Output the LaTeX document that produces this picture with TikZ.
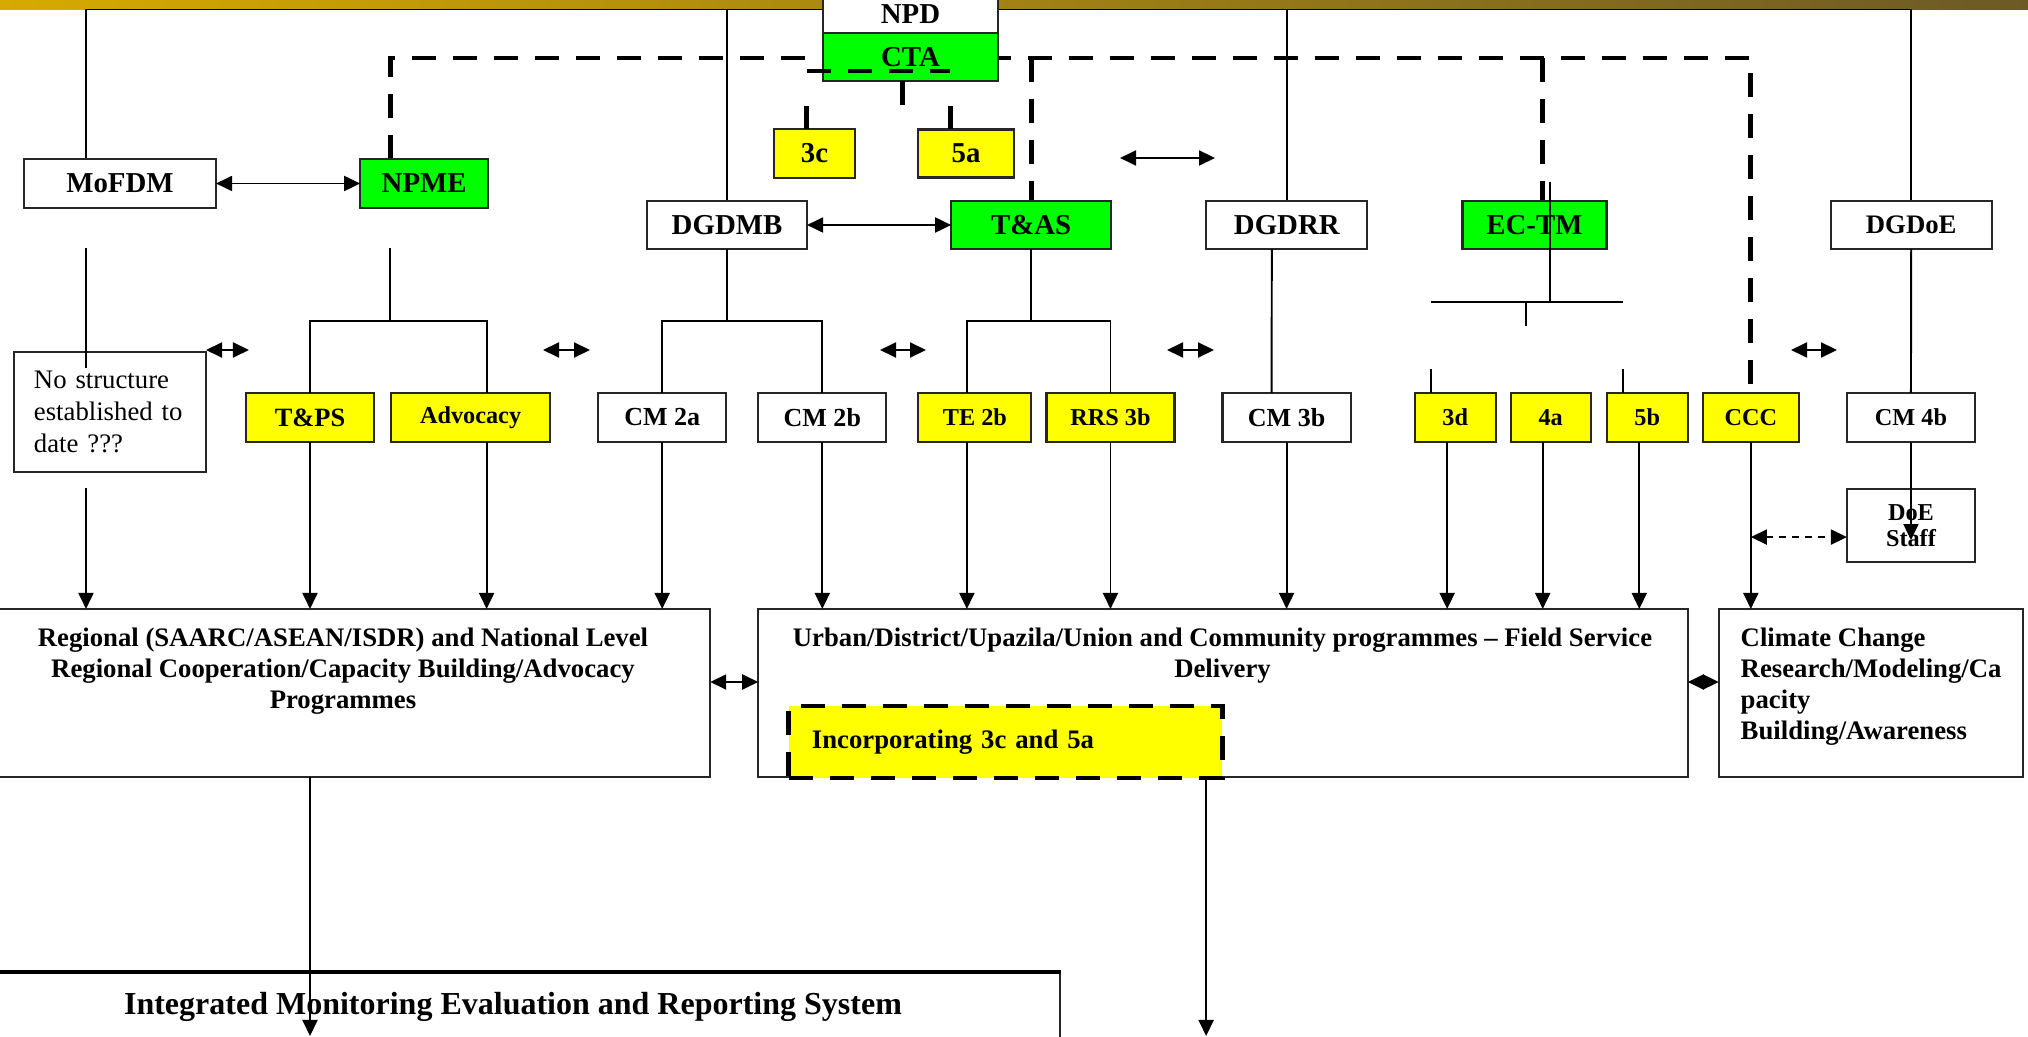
\documentclass[tikz,border=0pt]{standalone}
\usepackage{fontspec}
\setmainfont{Liberation Serif}
\usepackage{tikz}
\usetikzlibrary{arrows.meta,positioning,backgrounds}

\definecolor{ctagreen}{RGB}{0,255,0}
\definecolor{taskyellow}{RGB}{255,255,0}
\definecolor{bargold}{RGB}{214,170,0}
\definecolor{barbrown}{RGB}{108,90,38}

\tikzset{
	box/.style={draw=black!85, line width=0.6pt, fill=white, inner sep=0pt, outer sep=0pt,
		minimum width=1.28cm, minimum height=0.48cm,
		font=\bfseries\fontsize{8.2}{9.8}\selectfont},
	gbox/.style={box, fill=ctagreen},
	ybox/.style={box, fill=taskyellow},
	lowbox/.style={minimum height=0.49cm, font=\bfseries\fontsize{6.9}{8.3}\selectfont},
	cmbox/.style={minimum height=0.49cm, font=\bfseries\fontsize{7.4}{8.8}\selectfont},
	bigbox/.style={draw=black!85, line width=0.6pt, inner sep=0pt, outer sep=0pt, minimum height=1.68cm},
	bigtext/.style={inner sep=0pt, font=\bfseries\fontsize{7.6}{8.8}\selectfont},
	link/.style={line width=0.55pt},
	arr/.style={link, -{Triangle[length=1.6mm,width=1.5mm]}},
	dbl/.style={link, {Triangle[length=1.6mm,width=1.5mm]}-{Triangle[length=1.6mm,width=1.5mm]}},
	thickdash/.style={line width=1.4pt, dash pattern=on 0.24cm off 0.17cm},
}

\begin{document}
\begin{tikzpicture}[x=0.01cm, y=-0.01cm]
	\useasboundingbox (0,0) rectangle (2028,1037);
	\clip (0,0) rectangle (2028,1037);

	% Draw the top boxes
	\node[box, minimum width=1.75cm, minimum height=0.38cm, anchor=south] (NPD) at (910.5,33) {NPD};
	\node[gbox, minimum width=1.75cm, below=0cm of NPD] (CTA) {CTA};
	\node[box, minimum width=1.92cm, minimum height=0.49cm] (MoFDM) at (120,183.5) {MoFDM};
	\node[gbox, minimum height=0.49cm, right=1.44cm of MoFDM] (NPME) {NPME};
	\node[ybox, minimum width=0.81cm, minimum height=0.49cm] (task3c) at (814.5,153.5) {3c};
	\node[ybox, minimum width=0.96cm, right=0.63cm of task3c] (task5a) {5a};
	\node[box, minimum width=1.60cm] (DGDMB) at (727,225) {DGDMB};
	\node[gbox, minimum width=1.60cm, right=1.44cm of DGDMB] (TAS) {T\&AS};
	\node[box, minimum width=1.61cm, right=0.95cm of TAS] (DGDRR) {DGDRR};
	\node[gbox, minimum width=1.44cm, right=0.95cm of DGDRR] (ECTM) {EC-TM};
	\node[box, minimum width=1.61cm, right=2.24cm of ECTM, font=\bfseries\fontsize{7.6}{9}\selectfont] (DGDoE) {DGDoE};

	% Draw the unit boxes
	\node[draw=black!85, line width=0.6pt, minimum height=1.2cm, text width=1.52cm, inner xsep=0.2cm, inner ysep=0pt,
		align=left, font=\fontsize{7.6}{9.1}\selectfont] (NoStruct) at (110,412) {No structure\\established to\\date ???};
	\node[ybox, lowbox, font=\bfseries\fontsize{7.5}{9}\selectfont] (TPS) at (310,417.5) {T\&PS};
	\node[ybox, lowbox, minimum width=1.59cm, right=0.17cm of TPS] (Adv) {Advocacy};
	\node[box, cmbox, right=0.48cm of Adv] (CM2a) {CM 2a};
	\node[box, cmbox, right=0.32cm of CM2a] (CM2b) {CM 2b};
	\node[ybox, lowbox, minimum width=1.13cm, right=0.32cm of CM2b] (TE2b) {TE 2b};
	\node[ybox, lowbox, right=0.15cm of TE2b] (RRS3b) {RRS 3b};
	\node[box, cmbox, right=0.48cm of RRS3b] (CM3b) {CM 3b};
	\node[ybox, lowbox, minimum width=0.81cm, right=0.64cm of CM3b] (task3d) {3d};
	\node[ybox, lowbox, minimum width=0.80cm, right=0.15cm of task3d] (task4a) {4a};
	\node[ybox, lowbox, minimum width=0.81cm, right=0.16cm of task4a] (task5b) {5b};
	\node[ybox, lowbox, minimum width=0.96cm, right=0.15cm of task5b] (CCC) {CCC};
	\node[box, lowbox, right=0.48cm of CCC] (CM4b) {CM 4b};
	\node[box, lowbox, minimum height=0.73cm, align=center, below=0.47cm of CM4b,
		font=\bfseries\fontsize{6.9}{7.6}\selectfont] (DoEStaff) {DoE\\Staff};

	% Draw the programme boxes
	\node[bigbox, minimum width=7.34cm] (Regional) at (343,693) {};
	\node[bigbox, minimum width=9.29cm, right=0.48cm of Regional] (Urban) {};
	\node[bigbox, minimum width=3.04cm, right=0.31cm of Urban] (Climate) {};
	\node[bigtext, align=center, anchor=north] (regtext) at (343,627)
		{Regional (SAARC/ASEAN/ISDR) and National Level\\Regional Cooperation/Capacity Building/Advocacy\\Programmes};
	\node[bigtext, align=center, anchor=north] (urbtext) at (1222.5,627)
		{Urban/District/Upazila/Union and Community programmes – Field Service\\Delivery};
	\node[bigtext, align=left, anchor=north west] (climtext) at (1740,627)
		{Climate Change\\Research/Modeling/Ca\\pacity\\Building/Awareness};
	\node[draw, fill=taskyellow, thickdash, minimum width=4.33cm, minimum height=0.72cm, inner ysep=0pt,
		inner xsep=0.23cm, outer sep=0pt, text width=3.87cm, align=left, font=\bfseries\fontsize{7.6}{9}\selectfont]
		(Incorp) at (1005.5,742) {Incorporating 3c and 5a};
	\node[draw=black!85, line width=0.6pt, minimum width=10.94cm, minimum height=0.68cm, inner sep=0pt,
		font=\bfseries\fontsize{9.1}{11}\selectfont] (Integrated) at (513,1007)
		{Integrated Monitoring Evaluation and Reporting System};
	\draw[line width=1.1pt] (Integrated.north west) -- (Integrated.north east);

	\coordinate (topline) at (0,9.5);
	\coordinate (dashtop) at (0,58);
	\coordinate (bottom) at (0,1036);

	\begin{scope}[on background layer]
		\shade[left color=bargold, right color=barbrown] (0,0) rectangle (2028,10);
		\draw[link] ([xshift=-0.34cm]MoFDM.north) |- (DGDoE.north |- topline) -- (DGDoE.north);
		\foreach \n in {DGDMB, DGDRR}
			\draw[link] (\n.north) -- (\n.north |- topline);
		\draw[thickdash] ([xshift=-0.34cm]NPME.north) |- (CCC.north |- dashtop) -- (CCC.north);
		\draw[thickdash] (TAS.north |- dashtop) -- (TAS.north);
		\draw[thickdash] ([xshift=0.08cm]ECTM.north |- dashtop) -- ([xshift=0.08cm]ECTM.north);
	\end{scope}

	% Connect the CTA with its tasks
	\coordinate (ctaL) at (807,71);
	\coordinate (ctaR) at (950,71);
	\draw[thickdash] (ctaL) -- (ctaR);
	\draw[thickdash] ([xshift=-0.08cm]CTA.south) -- ++(0,24);
	\draw[thickdash] ([xshift=-0.08cm]task3c.north) -- ++(0,-23);
	\draw[thickdash] ([xshift=-0.16cm]task5a.north) -- ++(0,-23);

	% Connect the boxes
	\draw[dbl] (MoFDM) -- (NPME);
	\draw[dbl] (DGDMB) -- (TAS);
	\coordinate (swapL) at (1120,158);
	\coordinate (swapR) at (1215,158);
	\draw[dbl] (swapL) -- (swapR);
	\foreach \a/\b [count=\i] in {206/249, 543/590, 880/926, 1167/1214, 1791/1837} {
		\coordinate (xl\i) at (\a,350);
		\coordinate (xr\i) at (\b,350);
		\draw[dbl] (xl\i) -- (xr\i);
	}

	\coordinate (mofdmA) at (86,248);
	\coordinate (mofdmB) at (86,368);
	\coordinate (mofdmC) at (86,488);
	\draw[link] (mofdmA) -- (mofdmB);
	\draw[arr] (mofdmC) -- (mofdmC |- Regional.north);

	\coordinate (npmeA) at (390,248);
	\coordinate (npmeJ) at (390,321);
	\draw[link] (npmeA) -- (npmeJ);
	\draw[link] (TPS.north) |- (npmeJ) -| ([xshift=0.16cm]Adv.north);

	\coordinate (dgdmbJ) at (726,321);
	\draw[link] (DGDMB.south) -- (DGDMB.south |- dgdmbJ);
	\draw[link] (CM2a.north) |- (dgdmbJ) -| (CM2b.north);

	\coordinate (tasJ) at (1030,321);
	\draw[link] (TAS.south) -- (TAS.south |- tasJ);
	\draw[link] ([xshift=-0.08cm]TE2b.north) |- (tasJ) -| (RRS3b.north);

	\draw[link] ([xshift=-0.15cm]DGDRR.south) -- ([xshift=-0.15cm]CM3b.north);

	\coordinate (ectmJ) at (1550,302);
	\draw[link] (ectmJ) -- ++(0,-120);
	\draw[line width=0.75pt] ([xshift=-0.24cm]task3d.north |- ectmJ) -- ([xshift=-0.24cm]task5b.north |- ectmJ);
	\draw[link] ([xshift=-0.24cm]ectmJ) -- ++(0,24);
	\draw[link] ([xshift=-0.24cm]task3d.north) -- ++(0,-24);
	\draw[link] ([xshift=-0.24cm]task5b.north) -- ++(0,-24);

	\draw[link] (DGDoE.south) -- (CM4b.north);
	\draw[arr] (CM4b.south) -- ++(0,98);
	\draw[dbl, dash pattern=on 0.07cm off 0.06cm] ([yshift=-0.115cm]DoEStaff.west -| CCC.south) -- ([yshift=-0.115cm]DoEStaff.west);

	% Arrows into the programmes
	\draw[arr] (TPS.south) -- (TPS.south |- Regional.north);
	\draw[arr] ([xshift=0.16cm]Adv.south) -- ([xshift=0.16cm]Adv.south |- Regional.north);
	\draw[arr] (CM2a.south) -- (CM2a.south |- Regional.north);
	\foreach \n/\s in {CM2b/0, TE2b/-0.08, RRS3b/0, CM3b/0, task3d/-0.08, task4a/-0.08, task5b/-0.08}
		\draw[arr] ([xshift=\s cm]\n.south) -- ([xshift=\s cm]\n.south |- Urban.north);
	\draw[arr] (CCC.south) -- (CCC.south |- Climate.north);

	\draw[dbl] ([yshift=0.11cm]Regional.east) -- ([yshift=0.11cm]Urban.west);
	\draw[dbl] ([yshift=0.11cm]Urban.east) -- ([yshift=0.11cm]Climate.west);

	\draw[arr] (TPS.south |- Regional.south) -- (TPS.south |- bottom);
	\draw[arr] ([xshift=-0.16cm]Incorp.south east) -- ([xshift=-0.16cm]Incorp.south east |- bottom);
\end{tikzpicture}
\end{document}
